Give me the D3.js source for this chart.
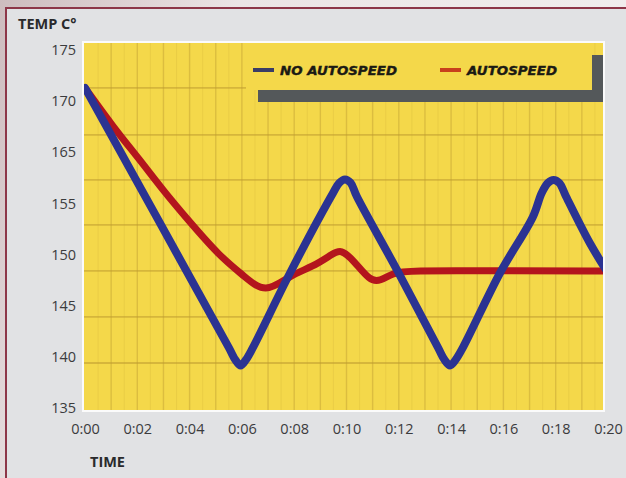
<!DOCTYPE html>
<html>
<head>
<meta charset="utf-8">
<script src="https://cdn.jsdelivr.net/npm/d3@7"></script>
<style>
  html, body { margin: 0; padding: 0; background: #e6dfe0; }
  svg { display: block; }
</style>
</head>
<body>
<div id="chart"></div>
<script>
// ── Temperature trace: autospeed vs no autospeed ──

// y labels as printed (160 is missing on the original, spacing is even)
const yTicks = [135, 140, 145, 150, 155, 165, 170, 175]
const xTicks = [0, 2, 4, 6, 8, 10, 12, 14, 16, 18, 20]

// NO AUTOSPEED (blue), minutes / temp
const blueT = [0, 5.5, 5.75, 5.95, 6.15, 6.42, 7.84, 9.48, 9.72, 9.94, 10.16, 10.4, 11.93, 13.5, 13.75, 13.96, 14.17, 14.45, 15.87, 17.13, 17.46, 17.7, 17.92, 18.14, 18.4, 19.31, 20]
const blueV = [171.3, 140.9, 139.7, 139.15, 139.7, 140.9, 148.2, 157.0, 159.0, 159.7, 159.0, 156.3, 148.5, 140.9, 139.7, 139.15, 139.7, 140.9, 148.2, 153.7, 157.0, 159.0, 159.6, 159.0, 156.3, 151.1, 148.2]

// AUTOSPEED (red)
const redT = [0, 1.07, 2.1, 2.98, 3.9, 5.16, 6.04, 6.9, 7.84, 8.72, 9.48, 9.79, 10.25, 10.9, 11.28, 11.78, 12.31, 16, 20]
const redV = [171.3, 167.5, 163.5, 157.6, 153.5, 149.8, 148.0, 146.1, 148.0, 148.8, 150.1, 150.5, 149.5, 147.4, 147.4, 148.2, 148.45, 148.4, 148.4]

// chart paper grid (horizontal lines, in temp units)
const paperGrid = [171.3, 166.7, 159.6, 152.9, 148.4, 143.9, 139.4]

const legendItems = ['NO AUTOSPEED', 'AUTOSPEED']

const W = 626, H = 478
const plot = { x: 84, y: 43, w: 519, h: 367 }
const blue = '#2b3392', red = '#b3151d', yellow = '#f4d84a'

const svg = d3.select('#chart').append('svg')
  .attr('width', W).attr('height', H)

const defs = svg.append('defs')
const bg = defs.append('linearGradient').attr('id', 'bg')
  .attr('x1', 0).attr('y1', 0).attr('x2', 1).attr('y2', 0.3)
bg.append('stop').attr('offset', '0%').attr('stop-color', '#cdbcbe')
bg.append('stop').attr('offset', '35%').attr('stop-color', '#ebe4e5')
bg.append('stop').attr('offset', '100%').attr('stop-color', '#f1eeee')

defs.append('clipPath').attr('id', 'plotClip')
  .append('rect')
  .attr('x', plot.x).attr('y', plot.y)
  .attr('width', plot.w).attr('height', plot.h)

// page background + framed panel
svg.append('rect').attr('width', W).attr('height', H).attr('fill', 'url(#bg)')
svg.append('rect')
  .attr('x', 6).attr('y', 8).attr('width', W).attr('height', H)
  .attr('fill', '#e1e2e4')
  .attr('stroke', '#8d3648').attr('stroke-width', 2)

const x = d3.scaleLinear().domain([0, 20]).range([85, 608])
const yStep = (408 - 50) / (yTicks.length - 1)
const y = d3.scaleLinear()
  .domain(yTicks)
  .range(yTicks.map((d, i) => 408 - i * yStep))

// white mat + yellow recorder paper
svg.append('rect')
  .attr('x', plot.x - 2).attr('y', plot.y - 2)
  .attr('width', plot.w + 4).attr('height', plot.h + 4)
  .attr('fill', '#fbfbfb')
svg.append('rect')
  .attr('x', plot.x).attr('y', plot.y)
  .attr('width', plot.w).attr('height', plot.h)
  .attr('fill', yellow)

const grid = svg.append('g').attr('clip-path', 'url(#plotClip)')

grid.selectAll('line.minor')
  .data(d3.range(0.5, 20, 1))
  .join('line')
  .attr('class', 'minor')
  .attr('x1', d => x(d)).attr('x2', d => x(d))
  .attr('y1', plot.y).attr('y2', plot.y + plot.h)
  .attr('stroke', '#c9a735').attr('stroke-opacity', 0.22).attr('stroke-width', 1)

grid.selectAll('line.vgrid')
  .data(d3.range(1, 20))
  .join('line')
  .attr('class', 'vgrid')
  .attr('x1', d => x(d)).attr('x2', d => x(d))
  .attr('y1', plot.y).attr('y2', plot.y + plot.h)
  .attr('stroke', '#bf9d32').attr('stroke-opacity', 0.45).attr('stroke-width', 1.4)

grid.selectAll('line.hgrid')
  .data(paperGrid)
  .join('line')
  .attr('class', 'hgrid')
  .attr('x1', plot.x).attr('x2', plot.x + plot.w)
  .attr('y1', d => y(d)).attr('y2', d => y(d))
  .attr('stroke', '#bd9b30').attr('stroke-opacity', 0.55).attr('stroke-width', 1.8)

// legend box with its dark drop shadow
const lg = svg.append('g').attr('clip-path', 'url(#plotClip)')
lg.append('rect')
  .attr('x', 258).attr('y', 55).attr('width', 360).attr('height', 47)
  .attr('fill', '#54585a')
lg.append('rect')
  .attr('x', 246).attr('y', 36).attr('width', 346).attr('height', 54)
  .attr('fill', yellow)

const legendX = [253, 440]
const legendLen = [117, 90]
legendItems.forEach((name, i) => {
  lg.append('line')
    .attr('x1', legendX[i]).attr('x2', legendX[i] + 21)
    .attr('y1', 70).attr('y2', 70)
    .attr('stroke', i === 0 ? '#3a3d66' : '#c8401c')
    .attr('stroke-width', 4)
  lg.append('text')
    .attr('x', legendX[i] + 27).attr('y', 75)
    .attr('font-family', 'DejaVu Sans, sans-serif')
    .attr('font-size', 13)
    .attr('font-weight', 'bold')
    .attr('font-style', 'italic')
    .attr('fill', '#1b1a14')
    .attr('stroke', '#1b1a14').attr('stroke-width', 0.4)
    .attr('textLength', legendLen[i])
    .attr('lengthAdjust', 'spacingAndGlyphs')
    .text(name)
})

// traces
const blueLine = d3.line()
  .x(d => x(d[0]))
  .y(d => y(d[1]))
  .curve(d3.curveCatmullRom.alpha(0.5))
const redLine = d3.line()
  .x(d => x(d[0]))
  .y(d => y(d[1]))
  .curve(d3.curveBasis)

const traces = svg.append('g').attr('clip-path', 'url(#plotClip)')
traces.append('path')
  .datum(d3.zip(redT, redV))
  .attr('d', redLine)
  .attr('fill', 'none')
  .attr('stroke', red)
  .attr('stroke-width', 7)
  .attr('stroke-linejoin', 'round')
  .attr('stroke-linecap', 'round')
traces.append('path')
  .datum(d3.zip(blueT, blueV))
  .attr('d', blueLine)
  .attr('fill', 'none')
  .attr('stroke', blue)
  .attr('stroke-width', 8)
  .attr('stroke-linejoin', 'round')
  .attr('stroke-linecap', 'round')

// axes
const fmtTime = d => '0:' + String(d).padStart(2, '0')

const xAxis = svg.append('g')
  .attr('transform', `translate(0,${plot.y + plot.h})`)
  .call(d3.axisBottom(x).tickValues(xTicks).tickFormat(fmtTime).tickSize(0).tickPadding(14))
const yAxis = svg.append('g')
  .attr('transform', `translate(${plot.x - 8},0)`)
  .call(d3.axisLeft(y).tickValues(yTicks).tickFormat(d3.format('d')).tickSize(0).tickPadding(0))

;[xAxis, yAxis].forEach(a => {
  a.select('.domain').remove()
  a.selectAll('text')
    .attr('font-family', 'Open Sans, sans-serif')
    .attr('font-size', 14.5)
    .attr('fill', '#3b3b3d')
})

svg.append('text')
  .attr('x', 18).attr('y', 29)
  .attr('font-family', 'Open Sans, sans-serif')
  .attr('font-size', 14.5).attr('font-weight', 'bold')
  .attr('fill', '#2a2a2c')
  .text('TEMP C°')

svg.append('text')
  .attr('x', 90).attr('y', 467)
  .attr('font-family', 'Open Sans, sans-serif')
  .attr('font-size', 14.5).attr('font-weight', 'bold')
  .attr('fill', '#2a2a2c')
  .text('TIME')
</script>
</body>
</html>
